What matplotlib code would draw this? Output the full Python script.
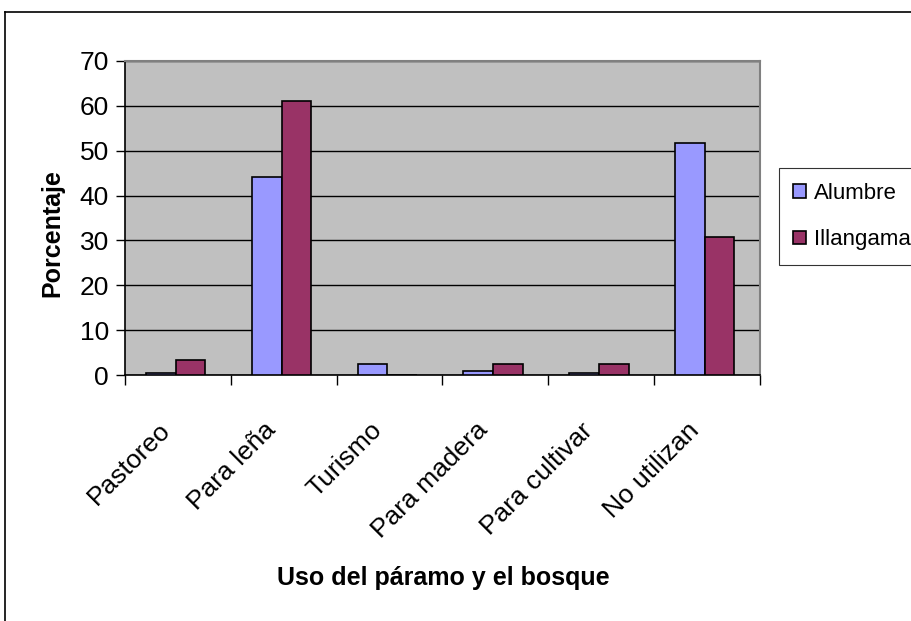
import numpy as np
import matplotlib
matplotlib.use("Agg")
import matplotlib.pyplot as plt
from matplotlib.lines import Line2D
from matplotlib.transforms import ScaledTranslation

plt.rcParams["font.family"] = ["Liberation Sans", "DejaVu Sans"]

categorias = ["Pastoreo", "Para leña", "Turismo", "Para madera", "Para cultivar", "No utilizan"]
alumbre = [0.5, 44.2, 2.5, 0.8, 0.5, 51.8]
illangama = [3.4, 61.0, 0.0, 2.5, 2.5, 30.7]
series = ["Alumbre", "Illangama"]
colores = ["#9999FF", "#993366"]

fig = plt.figure(figsize=(9.12, 6.21), dpi=100)
ax = fig.add_axes([0.137, 0.396, 0.696, 0.506])
ax.set_facecolor("#C0C0C0")

x = np.arange(len(categorias))
w = 0.28
for i, (vals, nombre, col) in enumerate(zip([alumbre, illangama], series, colores)):
    ax.bar(x - w / 2 + i * w - 0.02, vals, w, color=col, edgecolor="black",
           linewidth=1.2, label=nombre, zorder=3)

ax.set_xlim(-0.5, len(categorias) - 0.5)
ax.set_ylim(0, 70)
ax.set_yticks(range(0, 71, 10))
ax.tick_params(axis="y", labelsize=19, length=6.5, width=1, pad=5)
ax.yaxis.grid(True, color="black", linewidth=1, zorder=1)
ax.set_axisbelow(True)

# marcas del eje x en los limites de cada categoria
ax.set_xticks(np.arange(-0.5, len(categorias), 1.0))
ax.set_xticklabels([])
ax.tick_params(axis="x", length=7, width=1)
ax.set_xticks(x, minor=True)
ax.set_xticklabels(categorias, minor=True, rotation=45, ha="right",
                   rotation_mode="anchor", fontsize=19)
ax.tick_params(axis="x", which="minor", length=0, pad=31)
desplaza = ScaledTranslation(-0.2, 0, fig.dpi_scale_trans)
for lbl in ax.get_xticklabels(minor=True):
    lbl.set_transform(lbl.get_transform() + desplaza)

for s in ["top", "right"]:
    ax.spines[s].set_color("#808080")
    ax.spines[s].set_linewidth(1.5)
for s in ["left", "bottom"]:
    ax.spines[s].set_color("black")
    ax.spines[s].set_linewidth(1.2)

ax.set_ylabel("Porcentaje", fontsize=18, fontweight="bold")
ax.yaxis.set_label_coords(-0.095, 0.452)
fig.text(0.486, 0.069, "Uso del páramo y el bosque", fontsize=18,
         fontweight="bold", ha="center", va="center")

leg = fig.legend(loc="upper left", bbox_to_anchor=(0.854, 0.729), fontsize=16,
                 frameon=True, fancybox=False, edgecolor="black",
                 handlelength=0.55, handleheight=0.55, handletextpad=0.4,
                 labelspacing=1.15, borderpad=0.65, borderaxespad=0)
leg.get_frame().set_linewidth(0.8)

# marco del grafico
fig.add_artist(Line2D([5 / 912, 1.0], [609 / 621, 609 / 621], color="black",
                      linewidth=1.2, transform=fig.transFigure))
fig.add_artist(Line2D([5 / 912, 5 / 912], [0.0, 609 / 621], color="black",
                      linewidth=1.2, transform=fig.transFigure))

fig.savefig("out.png", dpi=100)
